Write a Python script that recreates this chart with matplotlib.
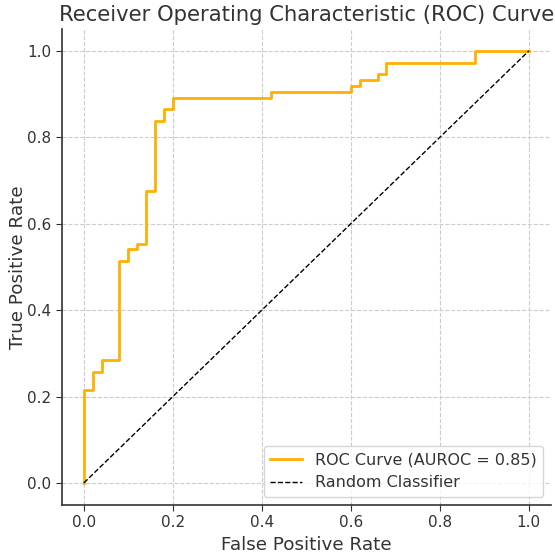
import numpy as np
import matplotlib
matplotlib.use("Agg")
import matplotlib.pyplot as plt

# ROC curve points (step curve)
fpr = [0.0, 0.0, 0.02, 0.02, 0.04, 0.04, 0.08, 0.08, 0.10, 0.10, 0.12, 0.12,
       0.14, 0.14, 0.16, 0.16, 0.18, 0.18, 0.20, 0.20, 0.42, 0.42, 0.60, 0.60,
       0.62, 0.62, 0.66, 0.66, 0.68, 0.68, 0.88, 0.88, 1.0]
tpr = [0.0, 0.216, 0.216, 0.257, 0.257, 0.284, 0.284, 0.514, 0.514, 0.541,
       0.541, 0.554, 0.554, 0.676, 0.676, 0.838, 0.838, 0.865, 0.865, 0.892,
       0.892, 0.905, 0.905, 0.919, 0.919, 0.932, 0.932, 0.946, 0.946, 0.973,
       0.973, 1.0, 1.0]
auroc = 0.85
ticks = [0.0, 0.2, 0.4, 0.6, 0.8, 1.0]

text_col = "#333333"
plt.rcParams["text.color"] = text_col
plt.rcParams["axes.labelcolor"] = text_col
plt.rcParams["xtick.color"] = text_col
plt.rcParams["ytick.color"] = text_col

fig = plt.figure(figsize=(5.55, 5.52), dpi=100)
ax = fig.add_axes([0.111, 0.086, 0.882, 0.861])

ax.plot(fpr, tpr, color="#FFB000", linewidth=2, label=f"ROC Curve (AUROC = {auroc:.2f})")
ax.plot([0, 1], [0, 1], color="black", linestyle="--", linewidth=1, label="Random Classifier")

ax.set_xlim(-0.05, 1.05)
ax.set_ylim(-0.05, 1.05)
ax.set_xticks(ticks)
ax.set_yticks(ticks)
ax.tick_params(labelsize=11, direction="out", length=4)
ax.set_xlabel("False Positive Rate", fontsize=13.2)
ax.set_ylabel("True Positive Rate", fontsize=13.2, labelpad=0)
ax.set_title("Receiver Operating Characteristic (ROC) Curve", fontsize=15.2, loc="center")
ax.grid(True, linestyle="--", color="#cccccc", linewidth=0.8)
ax.spines["top"].set_visible(False)
ax.spines["right"].set_visible(False)
for s in ["left", "bottom"]:
    ax.spines[s].set_color(text_col)
    ax.spines[s].set_linewidth(1.2)

ax.legend(loc="lower right", fontsize=11.5)

fig.savefig("out.png", dpi=100)
